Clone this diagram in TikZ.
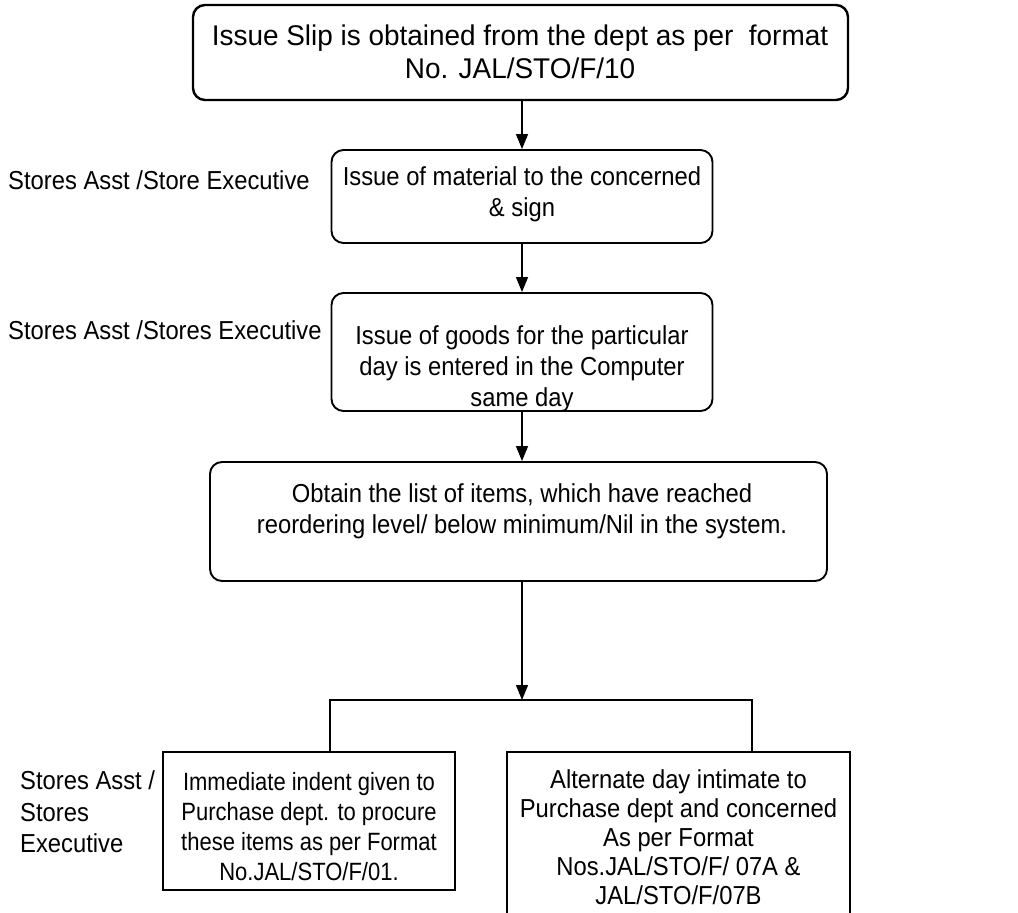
\documentclass[tikz,border=0pt]{standalone}
\usepackage{fontspec}
\setmainfont{Liberation Sans}
\newfontfamily\bodyfont{Liberation Sans}[FakeStretch=0.915]
\newfontfamily\narrowbody{Liberation Sans}[FakeStretch=0.88]
\newfontfamily\topfont{Liberation Sans}[FakeStretch=0.98]
\usetikzlibrary{arrows.meta}
\begin{document}
\begin{tikzpicture}[x=1pt,y=-1pt,
  rbox/.style={draw, line width=1.9pt, rounded corners=12pt, inner sep=0pt},
  sbox/.style={draw, line width=1.7pt, inner sep=0pt},
  txt/.style={align=center, inner sep=0pt, font=\bodyfont\fontsize{26}{31}\selectfont},
  ntxt/.style={align=center, inner sep=0pt, font=\narrowbody\fontsize{25}{30}\selectfont},
  btxt/.style={align=center, inner sep=0pt, font=\bodyfont\fontsize{26}{29}\selectfont},
  bigtxt/.style={align=center, inner sep=0pt, font=\topfont\fontsize{28.5}{33}\selectfont},
  lbl/.style={align=left, inner sep=0pt, anchor=west, font=\bodyfont\fontsize{26}{31.5}\selectfont},
  arr/.style={line width=1.4pt, -{Triangle[width=12pt,length=15pt]}},
  ln/.style={line width=1.4pt}]
\useasboundingbox (0,0) rectangle (1018,913);

% boxes
\node[rbox, line width=2.4pt, minimum width=655pt, minimum height=95pt] (b1) at (520.5,52.5) {};
\node[rbox, minimum width=381pt, minimum height=93pt] (b2) at (522,196.5) {};
\node[rbox, minimum width=381pt, minimum height=118pt] (b3) at (522,352) {};
\node[rbox, minimum width=617pt, minimum height=119pt] (b4) at (518.5,521.5) {};
\node[sbox, minimum width=292pt, minimum height=138pt] (b5) at (309,821) {};
\node[sbox, minimum width=343pt, minimum height=190pt] (b6) at (678.5,847) {};

% texts
\node[bigtxt] (t1) at (520,52) {Issue Slip is obtained from the dept as per~ format\\No. JAL/STO/F/10};
\node[txt] (t2) at (522,194.5) {Issue of material to the concerned\\\& sign};
\node[txt] (t3) at (522,369) {Issue of goods for the particular\\day is entered in the Computer\\same day};
\node[txt] (t4) at (522,511.5) {Obtain the list of items, which have reached\\reordering level/ below minimum/Nil in the system.};
\node[ntxt] (t5) at (309,826.5) {Immediate indent given to\\Purchase dept. to procure\\these items as per Format\\No.JAL/STO/F/01.};
\node[btxt] (t6) at (678.5,837.5) {Alternate day intimate to\\Purchase dept and concerned\\As per Format\\Nos.JAL/STO/F/ 07A \&\\JAL/STO/F/07B};

% side labels
\node[lbl] (l1) at (8,180) {Stores Asst /Store Executive};
\node[lbl] (l2) at (8,330) {Stores Asst /Stores Executive};
\node[lbl] (l3) at (20,812) {Stores Asst /\\Stores\\Executive};

% connectors
\draw[arr] (b2.north |- b1.south) -- (b2.north);
\draw[arr] (b2.south) -- (b3.north);
\draw[arr] (b3.south) -- (b3.south |- b4.north);
\coordinate (fk) at (522,700);
\coordinate (fl) at (330,700);
\coordinate (fr) at (752,700);
\draw[arr] (b4.south -| fk) -- (fk);
\draw[ln] (b5.north -| fl) -- (fl) -- (fr) -- (b6.north -| fr);
\end{tikzpicture}
\end{document}
